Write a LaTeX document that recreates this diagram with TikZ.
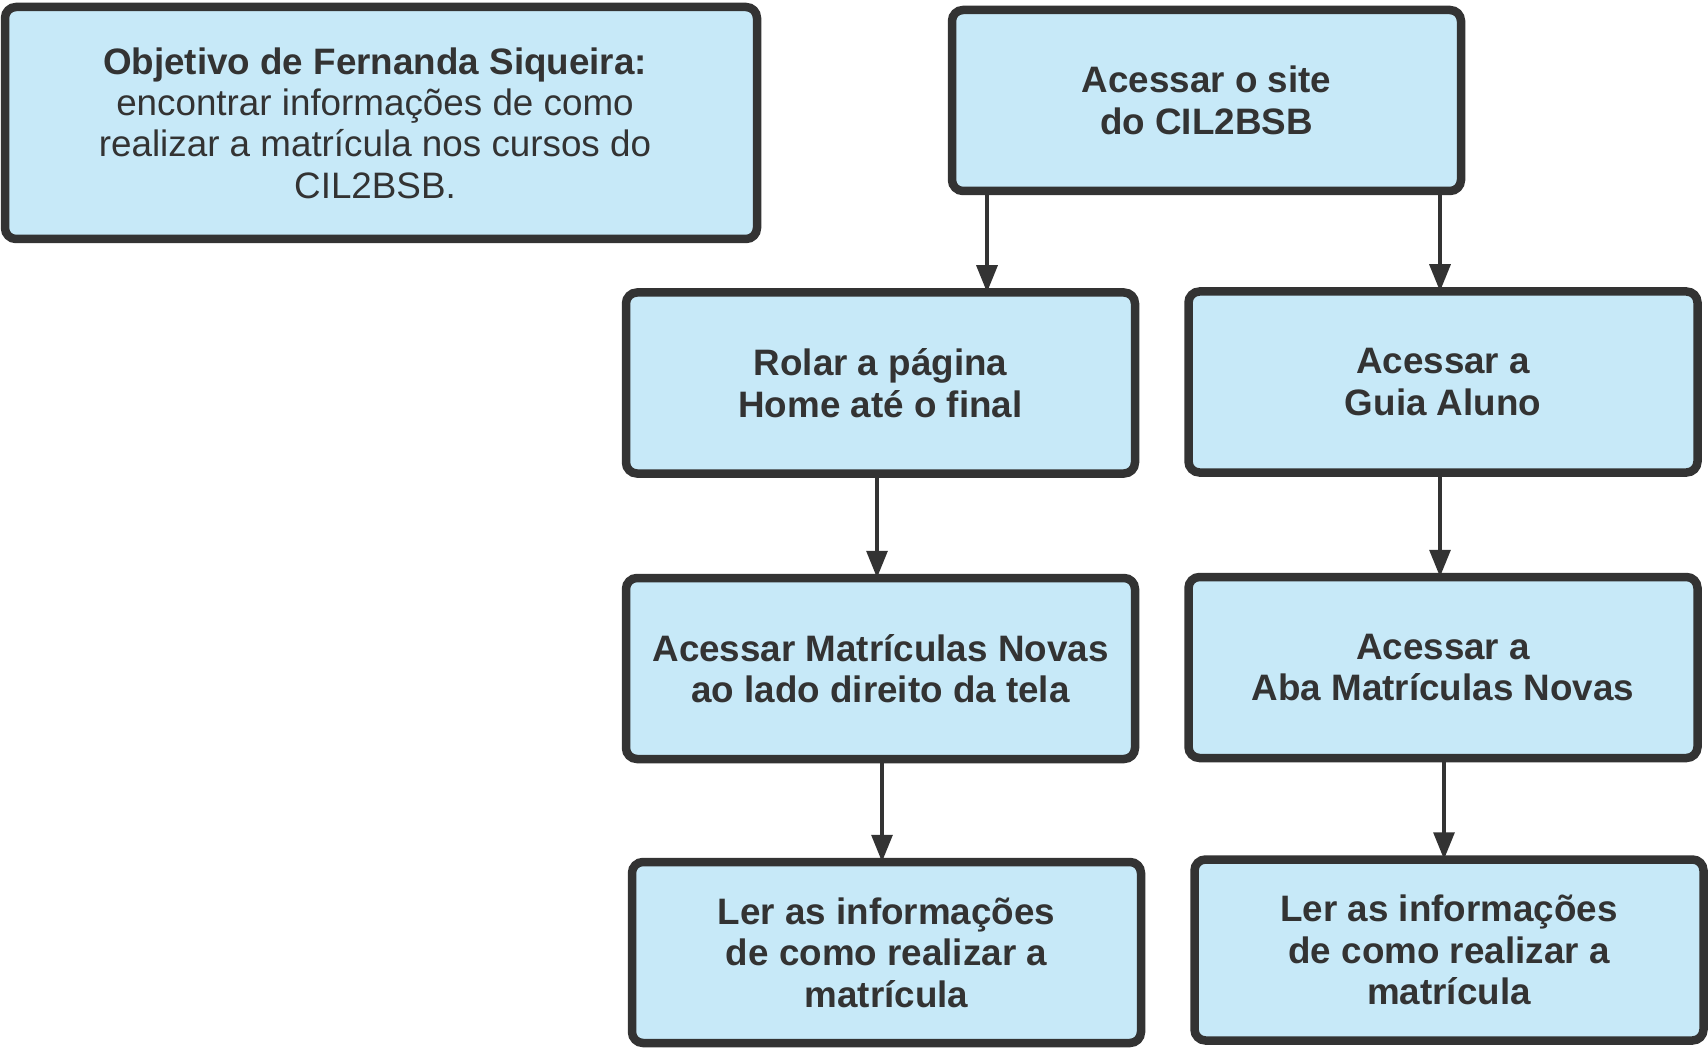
\documentclass[tikz,border=0pt]{standalone}
\usepackage{fontspec}
\setmainfont{Liberation Sans}
\usetikzlibrary{arrows.meta}
\definecolor{boxfill}{RGB}{199,233,248}
\definecolor{ink}{RGB}{51,51,51}
\begin{document}
\begin{tikzpicture}[x=1pt,y=-1pt,
  stepbox/.style={draw=ink, fill=boxfill, line width=8.5pt, rounded corners=11pt,
    align=center, text=ink, inner sep=0pt,
    minimum width=509pt, minimum height=181pt,
    font=\fontsize{36.8}{41.4}\selectfont\bfseries},
  arr/.style={draw=ink, line width=3.2pt, shorten >=-4pt,
    -{Triangle[length=27pt,width=21pt]}}]
\useasboundingbox[fill=white] (0,0) rectangle (1708,1048);
\node[stepbox, minimum width=752pt, minimum height=232pt,
  font=\fontsize{36.8}{41.4}\selectfont] (obj) at (381,123)
  {\hspace*{-12pt}\textbf{Objetivo de Fernanda Siqueira:}\\\hspace*{-12pt}encontrar informações de como\\\hspace*{-12pt}realizar a matrícula nos cursos do\\\hspace*{-12pt}CIL2BSB.};
\node[stepbox] (site) at (1206.5,100.5) {Acessar o site\\do CIL2BSB};
\node[stepbox] (rolar) at (880.5,383) {Rolar a página\\Home até o final};
\node[stepbox] (guia) at (1443,382) {Acessar a\\Guia Aluno};
\node[stepbox] (matr) at (880.5,668.5) {Acessar Matrículas Novas\\ao lado direito da tela};
\node[stepbox] (aba) at (1443,667.5) {Acessar a\\Aba Matrículas Novas};
\node[stepbox] (lerl) at (886.5,952.5) {Ler as informações\\de como realizar a\\matrícula};
\node[stepbox] (lerr) at (1449,950) {Ler as informações\\de como realizar a\\matrícula};
\draw[arr] (site.south -| 987,0) -- (rolar.north -| 987,0);
\draw[arr] (site.south -| 1440,0) -- (guia.north -| 1440,0);
\draw[arr] (rolar.south -| 877,0) -- (matr.north -| 877,0);
\draw[arr] (guia.south -| 1440,0) -- (aba.north -| 1440,0);
\draw[arr] (matr.south -| 882,0) -- (lerl.north -| 882,0);
\draw[arr] (aba.south -| 1444,0) -- (lerr.north -| 1444,0);
\end{tikzpicture}
\end{document}
